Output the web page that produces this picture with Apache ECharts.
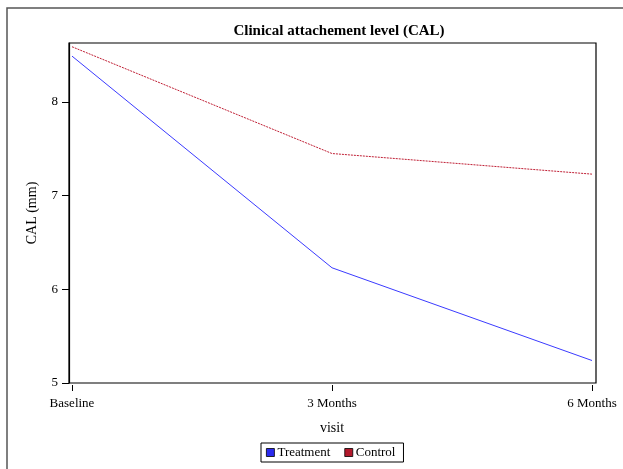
<!DOCTYPE html>
<html>
<head>
<meta charset="utf-8">
<script src="https://cdn.jsdelivr.net/npm/echarts@6/dist/echarts.min.js"></script>
<style>html,body{margin:0;padding:0;background:#fff;}#c{width:623px;height:469px;}</style>
</head>
<body>
<div id="c"></div>
<script>
const categories = ["Baseline", "3 Months", "6 Months"];
const treatment = [8.49, 6.23, 5.24];
const control = [8.59, 7.45, 7.23];
const yTicks = [5, 6, 7, 8];

const FONT = "Liberation Serif";
const chart = echarts.init(document.getElementById('c'), null, {renderer: 'canvas'});
chart.setOption({
  backgroundColor: '#fff',
  animation: false,
  textStyle: {fontFamily: FONT, color: '#000'},
  title: {
    text: 'Clinical attachement level (CAL)',
    left: 334, top: 19, textAlign: 'center',
    textStyle: {fontFamily: FONT, fontSize: 15, fontWeight: 'bold', color: '#000'}
  },
  graphic: [{
    type: 'rect', shape: {x: 7, y: 8, width: 700, height: 700},
    style: {fill: null, stroke: '#555', lineWidth: 1.5}, silent: true, z: -1
  }],
  grid: [
    {left: 69, right: 27, top: 43, bottom: 86, show: true, borderColor: '#000', borderWidth: 1.2, backgroundColor: 'transparent'},
    {left: 72, right: 31, top: 43, bottom: 86}
  ],
  xAxis: [
    {gridIndex: 0, type: 'value', show: false, min: 0, max: 1},
    {gridIndex: 1, type: 'category', data: categories, boundaryGap: false, offset: 2,
     axisLine: {show: false},
     axisTick: {show: true, length: 6, lineStyle: {color: '#000'}},
     axisLabel: {margin: 12, fontFamily: FONT, fontSize: 13, color: '#000', interval: 0},
     name: 'visit', nameLocation: 'middle', nameGap: 36,
     nameTextStyle: {fontFamily: FONT, fontSize: 14, color: '#000'}
    }
  ],
  yAxis: [
    {gridIndex: 0, type: 'value', min: 5, max: 8.63,
     axisLine: {show: true, lineStyle: {color: '#000', width: 1.2}},
     axisTick: {show: true, length: 7, customValues: yTicks, lineStyle: {color: '#000'}},
     axisLabel: {customValues: yTicks, margin: 11, fontFamily: FONT, fontSize: 13, color: '#000'},
     splitLine: {show: false},
     name: 'CAL (mm)', nameLocation: 'middle', nameGap: 30,
     nameTextStyle: {fontFamily: FONT, fontSize: 14, color: '#000'}
    },
    {gridIndex: 1, type: 'value', min: 5, max: 8.63, show: false, splitLine: {show: false}}
  ],
  legend: {
    left: 261, top: 443,
    icon: 'rect', itemWidth: 8, itemHeight: 8, itemGap: 14,
    borderColor: '#000', borderWidth: 1, padding: [3, 8, 3, 5],
    textStyle: {fontFamily: FONT, fontSize: 13, color: '#000', padding: [0, 0, 0, -2]},
    itemStyle: {borderColor: '#000', borderWidth: 0.8},
    data: [
      {name: 'Treatment', itemStyle: {color: '#2a2aee'}},
      {name: 'Control', itemStyle: {color: '#b2182b'}}
    ]
  },
  series: [
    {name: 'Treatment', type: 'line', xAxisIndex: 1, yAxisIndex: 1, data: treatment,
     showSymbol: false, symbol: 'none', itemStyle: {color: '#2a2aee'},
     lineStyle: {color: '#3b3bff', width: 1}},
    {name: 'Control', type: 'line', xAxisIndex: 1, yAxisIndex: 1, data: control,
     showSymbol: false, symbol: 'none', itemStyle: {color: '#b2182b'},
     lineStyle: {color: '#c01f35', width: 1, type: [2, 1]}}
  ]
});
</script>
</body>
</html>
